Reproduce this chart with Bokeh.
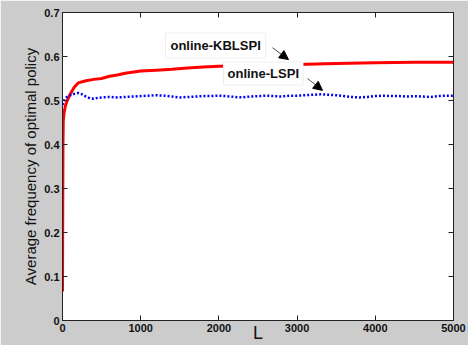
from bokeh.plotting import figure
from bokeh.models import Range1d, LinearAxis, FixedTicker, Label, Arrow, NormalHead, BoxAnnotation
from bokeh.embed import file_html
from bokeh.resources import INLINE

# --- data ---
kb_L = [0, 3, 6, 10, 20, 40, 60, 100, 150, 200, 300, 400, 500, 600, 700, 800,
        1000, 1200, 1400, 1600, 1800, 2000, 2500, 3000, 3500, 4000, 4500, 5000]
kb_val = [0.066, 0.25, 0.40, 0.455, 0.472, 0.49, 0.50, 0.515, 0.530, 0.540, 0.545, 0.548,
          0.550, 0.555, 0.558, 0.562, 0.567, 0.569, 0.571, 0.574, 0.576, 0.578,
          0.580, 0.582, 0.584, 0.586, 0.587, 0.587]

ls_L = [0, 20, 50, 100, 150, 200, 250, 300, 350, 400, 450, 500, 600, 700, 800, 900] + list(range(1000, 5001, 100))
ls_val = [0.490, 0.500, 0.507, 0.512, 0.515, 0.517, 0.514, 0.509, 0.505, 0.504, 0.506, 0.507,
          0.508, 0.507, 0.508, 0.509,
          0.510, 0.511, 0.512, 0.511, 0.509, 0.507, 0.508, 0.509, 0.510, 0.510,
          0.511, 0.510, 0.508, 0.507, 0.509, 0.510, 0.511, 0.510, 0.509, 0.511,
          0.511, 0.512, 0.513, 0.514, 0.513, 0.512, 0.510, 0.508, 0.507, 0.508,
          0.510, 0.511, 0.510, 0.510, 0.509, 0.510, 0.509, 0.508, 0.510, 0.511, 0.511]

x_ticks = [0, 1000, 2000, 3000, 4000, 5000]
y_ticks = [0, 0.1, 0.2, 0.3, 0.4, 0.5, 0.6, 0.7]
y_tick_labels = ["0", "0.1", "0.2", "0.3", "0.4", "0.5", "0.6", "0.7"]

FONT = "Liberation Sans"

p = figure(width=468, height=345, output_backend="svg", toolbar_location=None,
           x_range=Range1d(0, 5000), y_range=Range1d(0, 0.7),
           min_border_left=62, min_border_right=15, min_border_top=12, min_border_bottom=25)
p.border_fill_color = "#cccccc"
p.background_fill_color = "white"
p.outline_line_color = "#222222"
p.outline_line_width = 1
p.xgrid.visible = False
p.ygrid.visible = False

p.line(kb_L, kb_val, line_color="#ff0000", line_width=3)
p.line(ls_L, ls_val, line_color="#0000ff", line_width=2.5, line_dash="2 2")

def style(ax, labels=True, ticks=None):
    ax.axis_line_color = "#222222"
    ax.major_tick_in = 5
    ax.major_tick_out = 0
    ax.major_tick_line_color = "#222222"
    ax.minor_tick_line_color = None
    if labels:
        ax.major_label_text_font = FONT
        ax.major_label_text_font_style = "bold"
        ax.major_label_text_font_size = "11px"
        ax.major_label_text_color = "#111111"
        ax.major_label_standoff = 3
    else:
        ax.major_label_overrides = {t: "" for t in ticks}
        ax.major_label_standoff = 0

xa = p.xaxis[0]
xa.ticker = FixedTicker(ticks=x_ticks)
style(xa)
xa.axis_label = "L"
xa.axis_label_text_font = FONT
xa.axis_label_text_font_style = "normal"
xa.axis_label_text_font_size = "18px"
xa.axis_label_text_color = "#111111"
xa.axis_label_standoff = -12

ya = p.yaxis[0]
ya.ticker = FixedTicker(ticks=y_ticks)
ya.major_label_overrides = {t: s for t, s in zip(y_ticks, y_tick_labels)}
style(ya)
ya.axis_label = "Average frequency of optimal policy"
ya.axis_label_text_font = FONT
ya.axis_label_text_font_style = "normal"
ya.axis_label_text_font_size = "15px"
ya.axis_label_text_color = "#111111"
ya.axis_label_standoff = 2

top = LinearAxis(ticker=FixedTicker(ticks=x_ticks))
style(top, labels=False, ticks=x_ticks)
p.add_layout(top, "above")
right = LinearAxis(ticker=FixedTicker(ticks=y_ticks))
style(right, labels=False, ticks=y_ticks)
p.add_layout(right, "right")

# white page strip left of the grey figure area
p.add_layout(BoxAnnotation(left=0, right=12, bottom=-30, top=400, left_units="screen",
                           right_units="screen", bottom_units="screen", top_units="screen",
                           fill_color="white", fill_alpha=1, line_color=None, level="underlay"))

p.add_layout(Label(x=1317, y=0.625, text="online-KBLSPI", text_font=FONT,
                   text_font_style="bold", text_font_size="13px", text_color="#111111",
                   text_baseline="middle", background_fill_color="white",
                   border_line_color="#eeeeee", padding=5))
p.add_layout(Label(x=2059, y=0.561, text="online-LSPI", text_font=FONT,
                   text_font_style="bold", text_font_size="13px", text_color="#111111",
                   text_baseline="middle", background_fill_color="white",
                   border_line_color="#eeeeee", padding=4))

p.add_layout(Arrow(x_start=2685, y_start=0.620, x_end=2890, y_end=0.593,
                   line_width=0.7, line_color="black",
                   end=NormalHead(size=9, fill_color="black", line_color="black")))
p.add_layout(Arrow(x_start=3133, y_start=0.550, x_end=3325, y_end=0.523,
                   line_width=0.7, line_color="black",
                   end=NormalHead(size=9, fill_color="black", line_color="black")))

open("out.html", "w").write(file_html(p, INLINE))
